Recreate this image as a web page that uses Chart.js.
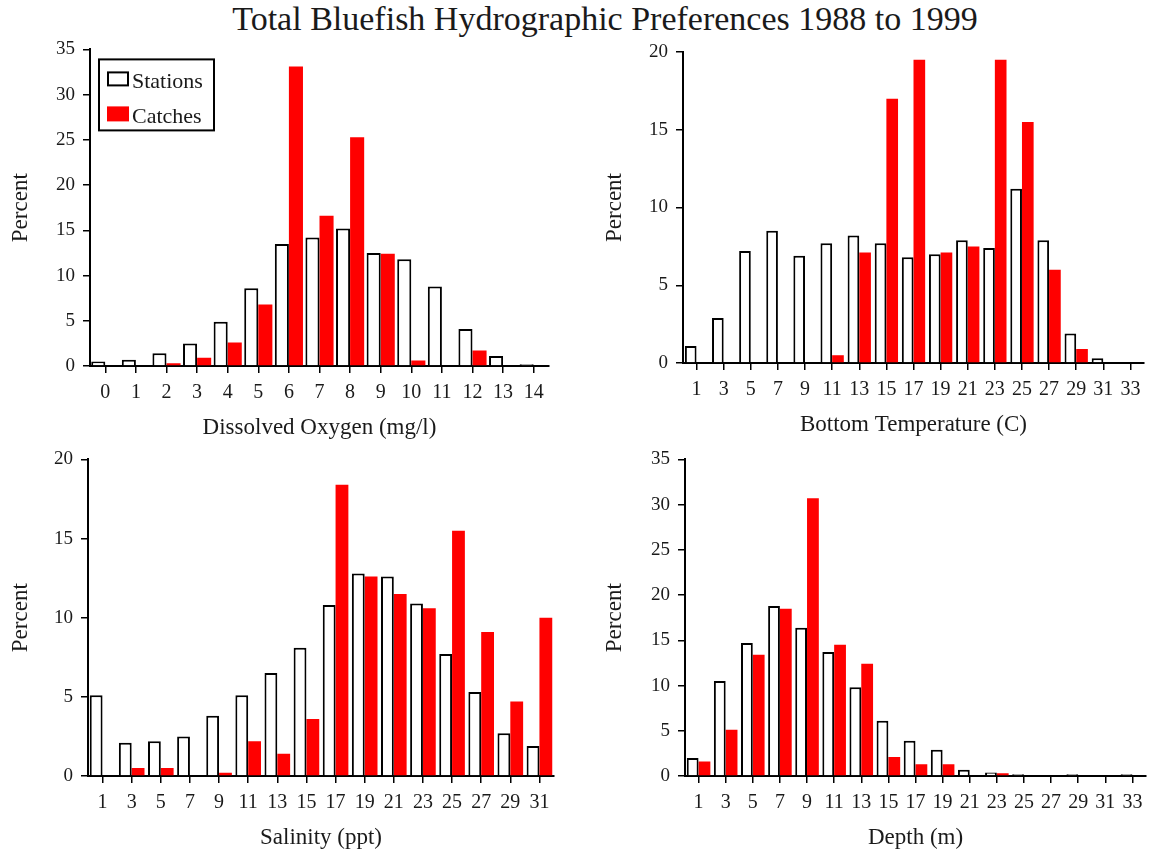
<!DOCTYPE html>
<html>
<head>
<meta charset="utf-8">
<title>Total Bluefish Hydrographic Preferences 1988 to 1999</title>
<script src="https://cdn.jsdelivr.net/npm/chart.js@4.4.0/dist/chart.umd.min.js"></script>
<style>
  body { margin: 0; background: #fff; width: 1151px; height: 856px; position: relative; overflow: hidden; font-family: "Liberation Serif", serif; }
  #title { position: absolute; left: 155px; width: 900px; top: 2px; text-align: center; font-size: 34px; line-height: 34px; color: #1a1a1a; white-space: nowrap; }
  canvas { position: absolute; }
</style>
</head>
<body>
<div id="title">Total Bluefish Hydrographic Preferences 1988 to 1999</div>
<canvas id="oxygen" width="575" height="416" style="left:0px;top:30px"></canvas>
<canvas id="temperature" width="557" height="413" style="left:594px;top:30px"></canvas>
<canvas id="salinity" width="575" height="416" style="left:0px;top:440px"></canvas>
<canvas id="depth" width="557" height="416" style="left:594px;top:440px"></canvas>
<script>
// percent of stations / catches in each bin
let oxygenLabels = ['0','1','2','3','4','5','6','7','8','9','10','11','12','13','14'];
let oxygenStations = [0.5, 0.7, 1.4, 2.5, 4.9, 8.6, 13.5, 14.2, 15.2, 12.5, 11.8, 8.8, 4.1, 1.1, 0.2];
let oxygenCatches = [0, 0, 0.3, 0.9, 2.6, 6.8, 33.1, 16.6, 25.3, 12.4, 0.6, 0, 1.7, 0, 0];

let tempLabels = ['1','3','5','7','9','11','13','15','17','19','21','23','25','27','29','31','33'];
let tempStations = [1.1, 2.9, 7.2, 8.5, 6.9, 7.7, 8.2, 7.7, 6.8, 7.0, 7.9, 7.4, 11.2, 7.9, 1.9, 0.3, 0];
let tempCatches = [0, 0, 0, 0, 0, 0.5, 7.1, 17.0, 19.5, 7.1, 7.5, 19.5, 15.5, 6.0, 0.9, 0, 0];

let salinityLabels = ['1','3','5','7','9','11','13','15','17','19','21','23','25','27','29','31'];
let salinityStations = [5.1, 2.1, 2.2, 2.5, 3.8, 5.1, 6.5, 8.1, 10.8, 12.8, 12.6, 10.9, 7.7, 5.3, 2.7, 1.9];
let salinityCatches = [0, 0.5, 0.5, 0, 0.2, 2.2, 1.4, 3.6, 18.4, 12.6, 11.5, 10.6, 15.5, 9.1, 4.7, 10.0];

let depthLabels = ['1','3','5','7','9','11','13','15','17','19','21','23','25','27','29','31','33'];
let depthStations = [2.0, 10.5, 14.7, 18.8, 16.4, 13.7, 9.8, 6.1, 3.9, 2.9, 0.7, 0.4, 0.2, 0, 0.2, 0, 0.2];
let depthCatches = [1.6, 5.1, 13.4, 18.5, 30.7, 14.5, 12.4, 2.1, 1.3, 1.3, 0, 0.3, 0, 0, 0, 0, 0];

let textColor = '#1a1a1a';
Chart.defaults.font.family = '"Liberation Serif", serif';
Chart.defaults.color = textColor;

// boxed legend sitting in the top left corner of the plot
const boxLegend = {
    id: 'boxLegend',
    afterDraw(chart) {
        if (!chart.options.plugins.boxLegend.show) return;
        let ctx = chart.ctx;
        let x = chart.chartArea.left + 9;
        let y = chart.chartArea.top + 10;
        ctx.save();
        ctx.lineWidth = 2;
        ctx.strokeStyle = '#000';
        ctx.strokeRect(x, y, 115, 71);
        ctx.font = '22px "Liberation Serif"';
        ctx.textBaseline = 'alphabetic';
        chart.data.datasets.forEach((ds, i) => {
            let sy = y + 12 + i * 35;
            ctx.fillStyle = ds.backgroundColor;
            ctx.fillRect(x + 8, sy, 22, 15);
            if (ds.borderWidth) {
                ctx.lineWidth = ds.borderWidth;
                ctx.strokeStyle = ds.borderColor;
                ctx.strokeRect(x + 9, sy + 1, 20, 13);
            }
            ctx.fillStyle = textColor;
            ctx.fillText(ds.label, x + 33, sy + 17);
        });
        ctx.restore();
    }
};

function makeChart(id, labels, stations, catches, yMax, xTitle, opts) {
    return new Chart(document.getElementById(id), {
        type: 'bar',
        data: {
            labels: labels,
            datasets: [
                {
                    label: 'Stations',
                    data: stations,
                    backgroundColor: '#ffffff',
                    borderColor: '#000000',
                    borderWidth: 2,
                    borderSkipped: 'bottom',
                    categoryPercentage: opts.catPct,
                    barPercentage: 1.0
                },
                {
                    label: 'Catches',
                    data: catches,
                    backgroundColor: '#ff0000',
                    borderWidth: 0,
                    categoryPercentage: opts.catPct,
                    barPercentage: 1.0
                }
            ]
        },
        options: {
            responsive: false,
            animation: false,
            devicePixelRatio: 1,
            layout: { padding: { top: opts.padTop, right: opts.padRight, left: 0, bottom: 0 } },
            plugins: {
                legend: { display: false },
                tooltip: { enabled: false },
                boxLegend: { show: !!opts.legend }
            },
            scales: {
                x: {
                    grid: { offset: false, drawOnChartArea: false, tickLength: 7, color: '#000', lineWidth: 1.5 },
                    border: { color: '#000', width: 2 },
                    ticks: { font: { size: 20 }, padding: 8, autoSkip: false, maxRotation: 0, color: textColor },
                    title: { display: true, text: xTitle, font: { size: 23 }, padding: { top: 0, bottom: 4 }, color: textColor },
                    afterFit: scale => { scale.height = 80; }
                },
                y: {
                    min: 0,
                    max: yMax,
                    grid: { drawOnChartArea: false, tickLength: 7, color: '#000', lineWidth: 1.5 },
                    border: { color: '#000', width: 2 },
                    ticks: { stepSize: 5, font: { size: 19 }, padding: 8, color: textColor },
                    title: { display: true, text: 'Percent', font: { size: 23 }, padding: { top: 7, bottom: 0 }, color: textColor },
                    afterFit: scale => { scale.width = opts.yWidth; }
                }
            }
        },
        plugins: [boxLegend]
    });
}

makeChart('oxygen', oxygenLabels, oxygenStations, oxygenCatches, 35, 'Dissolved Oxygen (mg/l)',
    { yWidth: 90, padTop: 17, padRight: 26, catPct: 0.92, legend: true });
makeChart('temperature', tempLabels, tempStations, tempCatches, 20, 'Bottom Temperature (C)',
    { yWidth: 89, padTop: 22, padRight: 7, catPct: 0.86 });
makeChart('salinity', salinityLabels, salinityStations, salinityCatches, 20, 'Salinity (ppt)',
    { yWidth: 88, padTop: 15, padRight: 21, catPct: 0.88 });
makeChart('depth', depthLabels, depthStations, depthCatches, 35, 'Depth (m)',
    { yWidth: 91, padTop: 18, padRight: 5, catPct: 0.87 });
</script>
</body>
</html>
